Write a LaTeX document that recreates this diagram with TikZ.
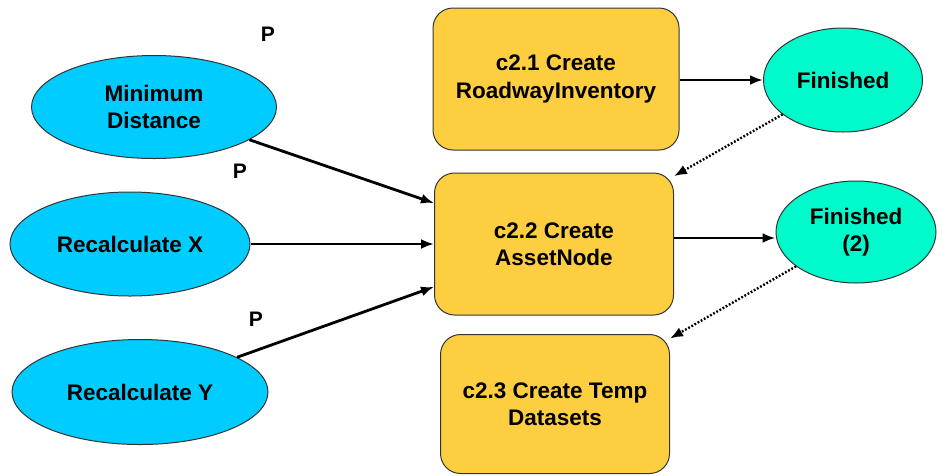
\documentclass[tikz,border=0pt]{standalone}
\usepackage{fontspec}
\setmainfont{Liberation Sans}
\usetikzlibrary{shapes.geometric,arrows.meta}
\definecolor{varblue}{RGB}{0,204,255}
\definecolor{outgreen}{RGB}{0,250,204}
\definecolor{toolgold}{RGB}{252,206,64}
\tikzset{
  lbl/.style={font=\fontsize{22.5}{27.5}\selectfont\bfseries, align=center},
  varnode/.style={ellipse, draw=black!80, line width=1pt, fill=varblue, inner sep=0pt, lbl},
  outnode/.style={ellipse, draw=black!80, line width=1pt, fill=outgreen, inner sep=0pt, lbl},
  toolnode/.style={rectangle, rounded corners=20pt, draw=black!80, line width=1pt, fill=toolgold, inner sep=0pt, lbl},
  flow/.style={line width=2.8pt, -{Latex[length=13pt,width=10pt]}},
  prec/.style={line width=2.4pt, dash pattern=on 1.8pt off 1.8pt, -{Latex[length=13pt,width=10pt]}},
  plabel/.style={font=\fontsize{21}{24}\selectfont\bfseries}
}
\begin{document}
\begin{tikzpicture}[x=1pt,y=-1pt]
\useasboundingbox (0,0) rectangle (946,475);

% parameter inputs
\node[varnode, minimum width=245pt, minimum height=103pt] (md) at (154,107) {Minimum\\Distance};
\node[varnode, minimum width=240pt, minimum height=104pt] (rx) at (130,244) {Recalculate X};
\node[varnode, minimum width=256pt, minimum height=105pt] (ry) at (140,392) {Recalculate Y};

% tools
\node[toolnode, minimum width=246pt, minimum height=142pt] (c21) at (556,79) {c2.1 Create\\RoadwayInventory};
\node[toolnode, minimum width=239pt, minimum height=142pt] (c22) at (554,244) {c2.2 Create\\AssetNode};
\node[toolnode, minimum width=229pt, minimum height=139pt] (c23) at (555,404) {c2.3 Create Temp\\Datasets};

% outputs
\node[outnode, minimum width=159pt, minimum height=104pt] (f1) at (843,80) {Finished};
\node[outnode, minimum width=160pt, minimum height=102pt] (f2) at (856,232) {Finished\\(2)};

% parameter markers
\node[plabel] (p1) at (268,34) {P};
\node[plabel] (p2) at (240,171) {P};
\node[plabel] (p3) at (256,319) {P};

% connectors
\draw[flow] (md) -- (c22);
\draw[flow] (rx) -- (c22);
\draw[flow] (ry) -- (c22);
\draw[flow] (c21.east |- f1) -- (f1);
\draw[flow] (c22.east) ++(0,-6) coordinate (c22o) (c22o) -- (f2.west |- c22o);
\draw[prec] (f1) -- (c22);
\draw[prec] (f2) -- (c23);
\end{tikzpicture}
\end{document}
